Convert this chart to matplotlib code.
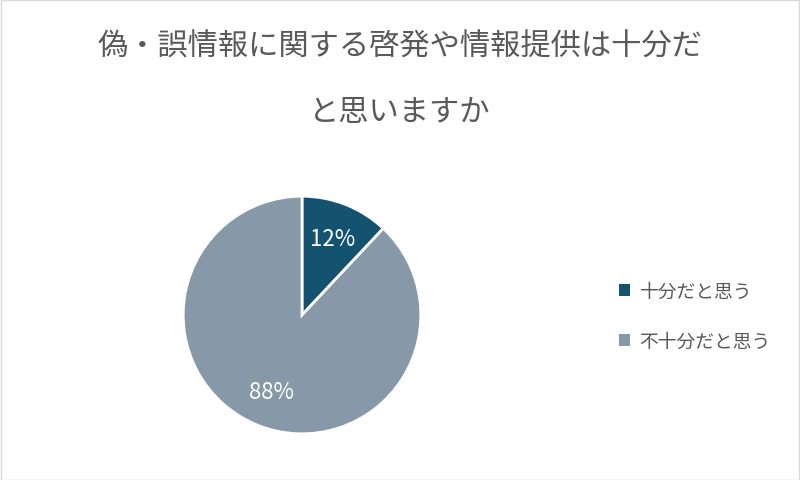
import matplotlib
matplotlib.use("Agg")
import matplotlib.pyplot as plt
from matplotlib.patches import Patch, Rectangle

plt.rcParams['font.family'] = ['Noto Sans CJK JP', 'DejaVu Sans']

title_lines = ["偽・誤情報に関する啓発や情報提供は十分だ", "と思いますか"]
categories = ["十分だと思う", "不十分だと思う"]
values = [12, 88]
colors = ["#145370", "#8799A8"]

fig = plt.figure(figsize=(8.0, 4.81), dpi=100)
fig.patches.append(Rectangle((0.001, 0.001), 0.998, 0.997, transform=fig.transFigure,
                             fill=False, edgecolor="#D9D9D9", linewidth=1))

fig.text(0.5, 1 - 47/481, title_lines[0], ha="center", va="center", fontsize=21.8, color="#595959")
fig.text(0.5, 1 - 113/481, title_lines[1], ha="center", va="center", fontsize=21.8, color="#595959")

cx, cy, r = 302, 316, 120
ax = fig.add_axes([(cx - r)/800, (481 - cy - r)/481, 2*r/800, 2*r/481])
wedges, texts, autotexts = ax.pie(values, colors=colors, startangle=90, counterclock=False,
                                  autopct=lambda p: f"{p:.0f}%", pctdistance=0.69,
                                  wedgeprops=dict(edgecolor="white", linewidth=2),
                                  textprops=dict(color="white", fontsize=16))
ax.set_xlim(-1.01, 1.01)
ax.set_ylim(-1.01, 1.01)
ax.set_aspect("equal")
ax.axis("off")

handles = [Patch(facecolor=c, edgecolor="none") for c in colors]
fig.legend(handles, categories, loc="center left", bbox_to_anchor=(602/800, 1 - 317/481),
           frameon=False, fontsize=13.5, labelcolor="#595959", handlelength=0.6, handleheight=0.6,
           handletextpad=0.5, labelspacing=1.55)

fig.savefig("out.png", dpi=100)
